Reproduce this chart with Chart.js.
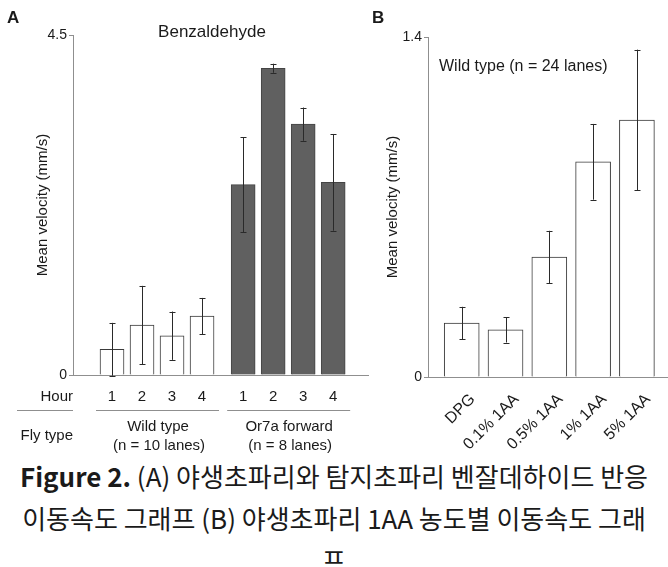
<!DOCTYPE html>
<html>
<head>
<meta charset="utf-8">
<script src="https://cdn.jsdelivr.net/npm/chart.js@4/dist/chart.umd.min.js"></script>
<style>
  html, body { margin: 0; padding: 0; background: #fff; }
  #page { position: relative; width: 668px; height: 567px; overflow: hidden; }
  #chartA { position: absolute; left: 0; top: 0; }
  #chartB { position: absolute; left: 370px; top: 0; }
  #caption {
    position: absolute; left: 0; top: 455px; width: 668px;
    text-align: center; white-space: nowrap;
    font-family: "Noto Sans CJK KR", "Noto Sans", sans-serif;
    font-size: 26px; line-height: 42px; color: #1a1a1a;
  }
  #caption b { font-weight: 700; }
</style>
</head>
<body>
<div id="page">
  <canvas id="chartA" width="370" height="455"></canvas>
  <canvas id="chartB" width="298" height="455"></canvas>
  <div id="caption"><b>Figure 2.</b> (A) 야생초파리와 탐지초파리 벤잘데하이드 반응<br>이동속도 그래프 (B) 야생초파리 1AA 농도별 이동속도 그래<br>프</div>
</div>
<script>
// panel A: benzaldehyde response by hour
const HOURS = ['1', '2', '3', '4'];
const WT_MEAN = [0.34, 0.66, 0.52, 0.78];
const WT_ERR = [0.35, 0.52, 0.32, 0.24];
const OR7A_MEAN = [2.52, 4.06, 3.32, 2.55];
const OR7A_ERR = [0.63, 0.06, 0.22, 0.64];
const A_Y_TICKS = [0, 4.5];
const GROUP_NAMES = ['Wild type', 'Or7a forward'];
const GROUP_NOTES = ['(n = 10 lanes)', '(n = 8 lanes)'];

// panel B: 1AA concentration
const CONC = ['DPG', '0.1% 1AA', '0.5% 1AA', '1% 1AA', '5% 1AA'];
const CONC_MEAN = [0.222, 0.194, 0.494, 0.886, 1.058];
const CONC_ERR = [0.067, 0.052, 0.108, 0.156, 0.29];
const B_Y_TICKS = [0, 1.4];

const FONT = "'Liberation Sans', Arial, sans-serif";
const TEXT = '#1a1a1a';
const AXIS = '#8f8f8f';
const GROUP_GAP = 0.37; // extra space between the two fly types

Chart.defaults.font.family = FONT;
Chart.defaults.color = TEXT;

const wtPos = HOURS.map((h, i) => i + 1);
const orPos = HOURS.map((h, i) => i + 1 + HOURS.length + GROUP_GAP);

const errorBars = {
  id: 'errorBars',
  afterDatasetsDraw(chart) {
    const { ctx, scales: { x, y } } = chart;
    ctx.save();
    ctx.strokeStyle = '#2a2a2a';
    ctx.lineWidth = 1;
    chart.data.datasets.forEach((ds) => {
      ds.data.forEach((pt, i) => {
        const e = ds.errors[i];
        const px = Math.round(x.getPixelForValue(pt.x)) + 0.5;
        const top = y.getPixelForValue(pt.y + e);
        const bot = y.getPixelForValue(pt.y - e);
        ctx.beginPath();
        ctx.moveTo(px, top); ctx.lineTo(px, bot);
        ctx.moveTo(px - 3, Math.round(top) + 0.5); ctx.lineTo(px + 3, Math.round(top) + 0.5);
        ctx.moveTo(px - 3, Math.round(bot) + 0.5); ctx.lineTo(px + 3, Math.round(bot) + 0.5);
        ctx.stroke();
      });
    });
    ctx.restore();
  },
};

function fixedTicks(values) {
  return (scale) => { scale.ticks = values.map((v) => ({ value: v })); };
}

const annotateA = {
  id: 'annotateA',
  afterDraw(chart) {
    const { ctx, scales: { x }, chartArea } = chart;
    ctx.save();
    ctx.fillStyle = TEXT;
    ctx.textBaseline = 'middle';
    ctx.font = `bold 17px ${FONT}`;
    ctx.textAlign = 'left';
    ctx.fillText('A', 7, 18);
    ctx.font = `17px ${FONT}`;
    ctx.textAlign = 'center';
    ctx.fillText('Benzaldehyde', 212, 32);

    ctx.font = `15px ${FONT}`;
    ctx.textAlign = 'right';
    ctx.fillText('Hour', chartArea.left, 397);
    ctx.fillText('Fly type', chartArea.left, 436);

    ctx.strokeStyle = AXIS;
    ctx.lineWidth = 1;
    ctx.beginPath();
    ctx.moveTo(17, 410.5); ctx.lineTo(chartArea.left, 410.5);
    [wtPos, orPos].forEach((pos, g) => {
      const c = (x.getPixelForValue(pos[0]) + x.getPixelForValue(pos[pos.length - 1])) / 2;
      ctx.moveTo(c - 61, 410.5); ctx.lineTo(c + 62, 410.5);
      ctx.textAlign = 'center';
      ctx.fillText(GROUP_NAMES[g], c + 1, 427);
      ctx.fillText(GROUP_NOTES[g], c + 2, 446);
    });
    ctx.stroke();
    ctx.restore();
  },
};

const annotateB = {
  id: 'annotateB',
  afterDraw(chart) {
    const { ctx } = chart;
    ctx.save();
    ctx.fillStyle = TEXT;
    ctx.textBaseline = 'middle';
    ctx.font = `bold 17px ${FONT}`;
    ctx.textAlign = 'left';
    ctx.fillText('B', 2, 18);
    ctx.font = `16px ${FONT}`;
    ctx.fillText('Wild type (n = 24 lanes)', 69, 67);
    ctx.restore();
  },
};

function yScale(maxVal, ticks, width) {
  return {
    min: 0,
    max: maxVal,
    afterBuildTicks: fixedTicks(ticks),
    afterFit: (s) => { s.width = width; },
    ticks: { font: { size: 14 }, color: TEXT, padding: 2, callback: (v) => String(v) },
    grid: { drawOnChartArea: false, drawTicks: true, tickLength: 4, color: AXIS },
    border: { color: AXIS },
    title: {
      display: true,
      text: 'Mean velocity (mm/s)',
      font: { size: 15 },
      color: TEXT,
      padding: { top: 4, bottom: 0 },
    },
  };
}

new Chart(document.getElementById('chartA'), {
  type: 'bar',
  data: {
    datasets: [
      {
        data: wtPos.map((p, i) => ({ x: p, y: WT_MEAN[i] })),
        errors: WT_ERR,
        backgroundColor: '#ffffff',
        borderColor: '#3a3a3a',
        borderWidth: 1,
        barThickness: 24,
        grouped: false,
      },
      {
        data: orPos.map((p, i) => ({ x: p, y: OR7A_MEAN[i] })),
        errors: OR7A_ERR,
        backgroundColor: '#606060',
        borderColor: '#444444',
        borderWidth: 1,
        barThickness: 24,
        grouped: false,
      },
    ],
  },
  options: {
    responsive: false,
    animation: false,
    devicePixelRatio: 1,
    layout: { padding: { left: 30, top: 35, right: 2, bottom: 0 } },
    plugins: { legend: { display: false }, tooltip: { enabled: false } },
    scales: {
      x: {
        type: 'linear',
        offset: false,
        min: -0.3,
        max: 9.53,
        afterBuildTicks: fixedTicks([...wtPos, ...orPos]),
        afterFit: (s) => { s.height = 80; },
        ticks: {
          autoSkip: false,
          maxRotation: 0,
          font: { size: 15 },
          color: TEXT,
          padding: 13,
          callback: (v, i) => HOURS[i % HOURS.length],
        },
        grid: { offset: false, drawOnChartArea: false, drawTicks: false, color: AXIS },
        border: { color: AXIS },
      },
      y: yScale(4.5, A_Y_TICKS, 43),
    },
  },
  plugins: [errorBars, annotateA],
});

const concPos = CONC.map((c, i) => i + 1);

new Chart(document.getElementById('chartB'), {
  type: 'bar',
  data: {
    datasets: [
      {
        data: concPos.map((p, i) => ({ x: p, y: CONC_MEAN[i] })),
        errors: CONC_ERR,
        backgroundColor: '#ffffff',
        borderColor: '#3a3a3a',
        borderWidth: 1,
        barThickness: 35,
        grouped: false,
      },
    ],
  },
  options: {
    responsive: false,
    animation: false,
    devicePixelRatio: 1,
    layout: { padding: { left: 10, top: 37, right: 0, bottom: 0 } },
    plugins: { legend: { display: false }, tooltip: { enabled: false } },
    scales: {
      x: {
        type: 'linear',
        offset: false,
        min: 0.23,
        max: 5.71,
        afterBuildTicks: fixedTicks(concPos),
        afterFit: (s) => { s.height = 78; },
        ticks: {
          autoSkip: false,
          minRotation: 45,
          maxRotation: 45,
          font: { size: 16 },
          color: TEXT,
          padding: 13,
          labelOffset: 11,
          callback: (v, i) => CONC[i],
        },
        grid: { offset: false, drawOnChartArea: false, drawTicks: false, color: AXIS },
        border: { color: AXIS },
      },
      y: yScale(1.4, B_Y_TICKS, 48),
    },
  },
  plugins: [errorBars, annotateB],
});
</script>
</body>
</html>
